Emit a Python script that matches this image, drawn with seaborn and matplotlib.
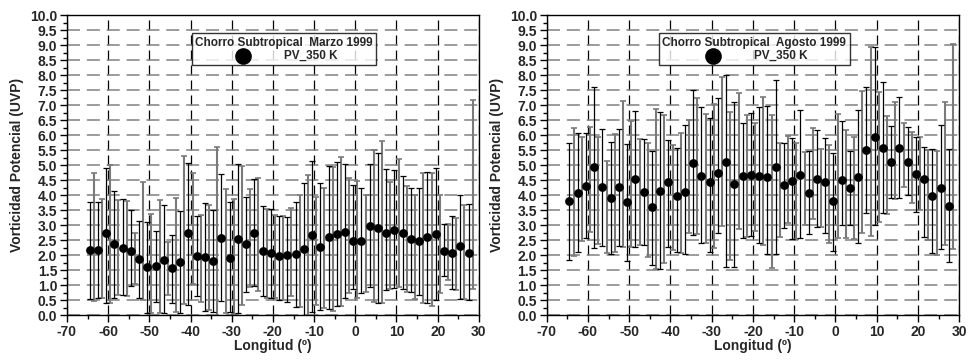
import pandas as pd
import matplotlib
matplotlib.use("Agg")
import matplotlib.pyplot as plt
import seaborn as sns
from matplotlib.ticker import MultipleLocator, FormatStrFormatter

# longitudes of the points (degrees)
lon = [-64.5, -62.5, -60.5, -58.5, -56.5, -54.5, -52.5, -50.5, -48.5, -46.5,
       -44.5, -42.5, -40.5, -38.5, -36.5, -34.5, -32.5, -30.5, -28.5, -26.5,
       -24.5, -22.5, -20.5, -18.5, -16.5, -14.5, -12.5, -10.5, -8.5, -6.5,
       -4.5, -2.5, -0.5, 1.5, 3.5, 5.5, 7.5, 9.5, 11.5, 13.5,
       15.5, 17.5, 19.5, 21.5, 23.5, 25.5, 27.5]

# Marzo 1999
pv_mar = [2.17, 2.17, 2.72, 2.36, 2.25, 2.13, 1.88, 1.59, 1.63, 1.83,
          1.56, 1.78, 2.72, 1.97, 1.94, 1.80, 2.57, 1.89, 2.52, 2.37,
          2.72, 2.13, 2.06, 1.97, 2.00, 2.03, 2.19, 2.67, 2.28, 2.59,
          2.70, 2.78, 2.48, 2.48, 2.97, 2.91, 2.74, 2.83, 2.74, 2.52,
          2.46, 2.59, 2.71, 2.13, 2.08, 2.30, 2.06]
hi_mar = [3.78, 3.78, 4.91, 4.14, 3.86, 3.50, 3.14, 3.09, 2.81, 3.66,
          2.67, 3.47, 5.08, 3.30, 3.74, 3.50, 4.69, 3.78, 5.02, 3.92,
          4.52, 3.63, 3.52, 3.31, 3.28, 3.78, 4.41, 5.14, 4.41, 4.97,
          5.11, 5.02, 4.33, 4.22, 5.02, 5.41, 4.88, 4.85, 4.64, 4.25,
          4.24, 4.78, 4.90, 3.03, 3.31, 4.00, 3.69]
lo_mar = [0.52, 0.56, 0.41, 0.58, 0.67, 0.98, 0.58, 0.06, 0.44, 0.06,
          0.41, 0.08, 0.33, 0.63, 0.14, 0.11, 0.47, 0.11, 0.06, 0.78,
          0.97, 0.63, 0.56, 0.50, 0.44, 0.28, 0.00, 0.11, 0.17, 0.19,
          0.30, 0.56, 0.86, 0.72, 0.94, 0.41, 0.83, 0.89, 0.86, 0.78,
          0.67, 0.41, 0.50, 1.30, 0.86, 0.55, 0.50]
# second (grey) set of bars, drawn 1 degree east of each point
ghi_mar = [4.74, 3.86, 5.00, 3.83, 3.80, 2.74, 4.42, 3.37, 3.83, 2.44,
           3.90, 5.30, 4.74, 3.35, 3.67, 5.59, 4.21, 3.87, 4.97, 4.20,
           4.56, 3.52, 3.33, 3.31, 3.56, 4.00, 4.67, 3.94, 4.22, 4.94,
           5.26, 4.56, 4.48, 4.00, 5.50, 5.81, 4.44, 5.20, 4.30, 4.00,
           4.72, 4.74, 4.00, 3.02, 3.24, 3.67, 7.17]
glo_mar = [0.47, 0.56, 0.41, 0.67, 0.63, 1.02, 0.50, 0.08, 0.08, 0.67,
           0.09, 0.37, 1.05, 0.44, 0.17, -0.08, 0.08, 0.03, 0.33, 0.94,
           0.80, 0.56, 0.56, 0.50, 0.63, 0.26, -0.03, 0.33, 0.22, 0.14,
           0.30, 0.72, 0.56, 0.78, 0.45, 0.39, 0.86, 0.94, 0.78, 0.52,
           0.41, 0.30, 0.75, 1.17, 0.83, 0.52, 0.86]

# Agosto 1999
pv_ago = [3.80, 4.08, 4.31, 4.92, 4.26, 3.91, 4.26, 3.76, 4.53, 4.09,
          3.60, 4.13, 4.44, 3.98, 4.11, 5.06, 4.64, 4.44, 4.74, 5.10,
          4.37, 4.64, 4.66, 4.63, 4.61, 4.92, 4.33, 4.48, 4.67, 4.08,
          4.53, 4.42, 3.80, 4.50, 4.22, 4.61, 5.50, 5.94, 5.58, 5.11,
          5.56, 5.11, 4.69, 4.53, 3.98, 4.24, 3.64]
hi_ago = [5.72, 6.06, 6.08, 7.61, 6.19, 5.78, 6.20, 5.70, 6.80, 5.86,
          5.48, 6.76, 5.83, 5.56, 6.33, 7.50, 6.92, 6.56, 7.22, 8.00,
          7.11, 6.41, 6.72, 6.94, 6.97, 7.83, 5.74, 5.89, 6.83, 5.48,
          6.17, 5.89, 5.41, 6.48, 5.48, 6.83, 7.59, 8.94, 7.78, 6.31,
          7.26, 6.26, 5.94, 5.61, 5.53, 6.33, 5.52]
lo_ago = [1.85, 2.11, 2.56, 2.22, 2.30, 2.03, 2.30, 1.81, 2.26, 2.33,
          1.68, 1.52, 2.28, 2.11, 2.03, 2.67, 2.39, 2.11, 2.74, 1.61,
          1.61, 2.56, 2.62, 2.39, 2.03, 2.03, 2.89, 2.52, 2.56, 2.70,
          2.92, 2.74, 2.14, 3.00, 3.00, 2.39, 3.41, 3.00, 3.39, 3.89,
          3.89, 4.00, 3.44, 2.61, 2.06, 2.20, 1.78]
ghi_ago = [6.22, 5.94, 6.26, 5.92, 5.13, 6.03, 7.14, 6.47, 5.86, 5.74,
           6.87, 6.67, 5.67, 6.06, 6.50, 7.22, 6.70, 7.03, 7.94, 6.78,
           7.39, 6.67, 6.41, 7.28, 6.67, 5.72, 5.97, 5.74, 5.44, 6.22,
           5.52, 5.67, 6.70, 6.17, 5.92, 7.47, 8.92, 7.44, 6.63, 7.11,
           6.39, 6.11, 5.92, 5.50, 5.48, 7.11, 9.03]
glo_ago = [1.97, 2.48, 2.78, 2.36, 2.06, 2.11, 2.28, 2.28, 2.33, 1.94,
           1.52, 1.72, 2.17, 2.08, 2.74, 2.70, 2.39, 2.22, 2.97, 1.83,
           2.86, 2.59, 2.80, 2.33, 1.56, 2.61, 3.06, 2.52, 3.00, 3.19,
           2.92, 2.39, 2.56, 2.56, 2.52, 2.74, 2.63, 3.11, 3.37, 3.86,
           4.26, 3.74, 3.50, 2.50, 2.00, 2.33, 2.20]

titles = ["Chorro Subtropical  Marzo 1999", "Chorro Subtropical  Agosto 1999"]
legend_x = [0.303, 0.272]

sns.set_theme(style="white")
plt.rcParams['font.family'] = ['Liberation Sans', 'DejaVu Sans']
plt.rcParams['font.weight'] = 'bold'
plt.rcParams['axes.unicode_minus'] = False

fig = plt.figure(figsize=(9.7, 3.61), dpi=100)
ax1 = fig.add_axes([0.069, 0.1274, 0.4247, 0.831])
ax2 = fig.add_axes([0.5636, 0.1274, 0.4253, 0.831])

panels = [(ax1, pv_mar, hi_mar, lo_mar, ghi_mar, glo_mar),
          (ax2, pv_ago, hi_ago, lo_ago, ghi_ago, glo_ago)]

for k, (ax, pv, hi, lo, ghi, glo) in enumerate(panels):
    df = pd.DataFrame({'lon': lon, 'pv': pv, 'hi': hi, 'lo': lo,
                       'ghi': ghi, 'glo': glo})
    df['glon'] = df['lon'] + 1.0
    df['gmid'] = (df['ghi'] + df['glo']) / 2

    # grid
    ax.set_axisbelow(True)
    ax.yaxis.grid(True, which='major', color='#808080', linestyle=(0, (8.5, 4.5)), linewidth=1.1)
    ax.xaxis.grid(True, which='major', color='black', linestyle=(0, (8, 4)), linewidth=0.9)

    # grey bars
    ax.errorbar(df['glon'], df['gmid'], yerr=(df['ghi'] - df['glo']) / 2, fmt='none',
                ecolor='#7a7a7a', elinewidth=1.5, capsize=2.2, capthick=1.2, zorder=2)
    # black bars
    ax.errorbar(df['lon'], df['pv'], yerr=[df['pv'] - df['lo'], df['hi'] - df['pv']],
                fmt='none', ecolor='black', elinewidth=0.9, capsize=2.2, capthick=0.9, zorder=3)
    sns.scatterplot(data=df, x='lon', y='pv', ax=ax, color='black', s=40,
                    edgecolor='black', linewidth=0, zorder=4, label='PV_350 K')

    ax.set_xlim(-70, 30)
    ax.set_ylim(0, 10)
    ax.xaxis.set_major_locator(MultipleLocator(10))
    ax.xaxis.set_minor_locator(MultipleLocator(5))
    ax.yaxis.set_major_locator(MultipleLocator(0.5))
    ax.yaxis.set_minor_locator(MultipleLocator(0.25))
    ax.yaxis.set_major_formatter(FormatStrFormatter('%.1f'))
    ax.tick_params(axis='both', which='major', direction='out', length=5, width=1,
                   labelsize=10, color='black', left=True, bottom=True, pad=2)
    ax.tick_params(axis='both', which='minor', direction='out', length=3, width=1,
                   color='black', left=True, bottom=True)
    for lab in ax.get_xticklabels() + ax.get_yticklabels():
        lab.set_fontweight('bold')
    for sp in ax.spines.values():
        sp.set_color('black')
        sp.set_linewidth(1)

    ax.set_xlabel('Longitud (º)', fontsize=10, fontweight='bold', labelpad=0)
    ax.set_ylabel('Vorticidad Potencial (UVP)', fontsize=10, fontweight='bold', labelpad=4)

    leg = ax.legend(title=titles[k], loc='upper left', bbox_to_anchor=(legend_x[k], 0.94),
                    frameon=True, fancybox=False, fontsize=8.5, title_fontsize=8.5,
                    markerscale=1.9, handletextpad=2.5, borderpad=0.3,
                    borderaxespad=0, handlelength=2.0, labelspacing=0.1)
    leg._legend_box.sep = 1
    leg.get_frame().set_edgecolor('black')
    leg.get_frame().set_linewidth(1)
    leg.get_title().set_fontweight('bold')
    for t in leg.get_texts():
        t.set_fontweight('bold')
    leg.set_zorder(6)

fig.savefig('out.png', dpi=100)
